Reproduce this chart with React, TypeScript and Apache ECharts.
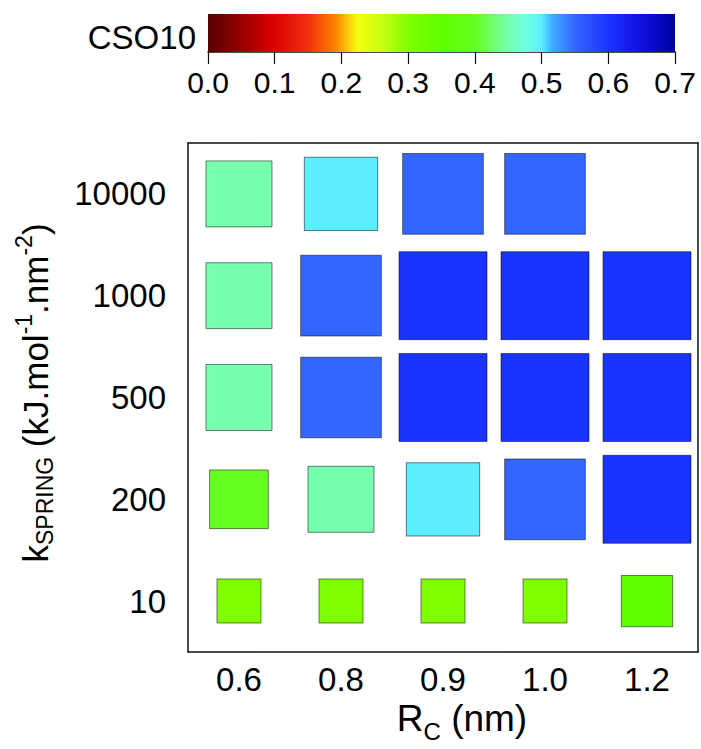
import React, { useEffect, useRef } from 'react';
import * as echarts from 'echarts';

// Category axes
const rcLabels = ['0.6', '0.8', '0.9', '1.0', '1.2'];
const kLabels = ['10', '200', '500', '1000', '10000'];

// CSO10 per spring constant row (columns follow rcLabels)
const cso10At10 = [0.3, 0.3, 0.3, 0.3, 0.35];
const cso10At200 = [0.4, 0.45, 0.5, 0.55, 0.6];
const cso10At500 = [0.45, 0.55, 0.6, 0.6, 0.6];
const cso10At1000 = [0.45, 0.55, 0.6, 0.6, 0.6];
const cso10At10000 = [0.45, 0.5, 0.55, 0.55, null];
const cso10Rows = [cso10At10, cso10At200, cso10At500, cso10At1000, cso10At10000];

// Colour scale
const scaleMin = 0;
const scaleMax = 0.7;
const scaleStep = 0.1;
const colormapStops: [number, string][] = [
  [0.0, '#550000'],
  [0.04, '#8a0000'],
  [0.1, '#dd0000'],
  [0.15, '#f03010'],
  [0.19, '#ff8000'],
  [0.225, '#f5ff10'],
  [0.26, '#c8ff10'],
  [0.3, '#80ff00'],
  [0.35, '#60ff00'],
  [0.4, '#66ff22'],
  [0.45, '#78ffb0'],
  [0.475, '#70ffe0'],
  [0.5, '#5aeeff'],
  [0.515, '#40b0ff'],
  [0.55, '#3366ff'],
  [0.6, '#1a33ff'],
  [0.65, '#1010e0'],
  [0.7, '#0000a0'],
];

const FONT = "'Liberation Sans', Arial, Helvetica, sans-serif";

function hexToRgb(h: string): number[] {
  const n = parseInt(h.slice(1), 16);
  return [(n >> 16) & 255, (n >> 8) & 255, n & 255];
}

function colorAt(v: number): string {
  const s = colormapStops;
  if (v <= s[0][0]) return s[0][1];
  for (let i = 1; i < s.length; i++) {
    if (v <= s[i][0]) {
      const t = (v - s[i - 1][0]) / (s[i][0] - s[i - 1][0]);
      const a = hexToRgb(s[i - 1][1]);
      const b = hexToRgb(s[i][1]);
      const c = a.map((x, k) => Math.round(x + (b[k] - x) * t));
      return `rgb(${c[0]},${c[1]},${c[2]})`;
    }
  }
  return s[s.length - 1][1];
}

function measure(text: string, size: number): number {
  const ctx = document.createElement('canvas').getContext('2d');
  if (!ctx) return text.length * size * 0.55;
  ctx.font = `${size}px ${FONT}`;
  return ctx.measureText(text).width;
}

type Piece = { text: string; size: number; dy: number };

// Lays out a run of text pieces (sub/superscripts) centred on the group's origin
function titleGroup(pieces: Piece[], x: number, y: number, rotation: number) {
  const widths = pieces.map((p) => measure(p.text, p.size));
  const total = widths.reduce((a, b) => a + b, 0);
  let cursor = -total / 2;
  const children = pieces.map((p, i) => {
    const el = {
      type: 'text',
      x: cursor,
      y: p.dy,
      style: {
        text: p.text,
        fontSize: p.size,
        fontFamily: FONT,
        fill: '#000',
        align: 'left',
        verticalAlign: 'middle',
      },
    };
    cursor += widths[i];
    return el;
  });
  return { type: 'group', x, y, rotation, children };
}

export default function App() {
  const ref = useRef<HTMLDivElement>(null);

  useEffect(() => {
    document.body.style.margin = '0';
    if (!ref.current) return;
    const chart = echarts.init(ref.current, undefined, { renderer: 'svg' });

    const points: (number | null)[][] = [];
    cso10Rows.forEach((row, yi) => {
      row.forEach((v, xi) => {
        if (v !== null) points.push([xi, yi, v]);
      });
    });

    const sampled: string[] = [];
    for (let i = 0; i <= 140; i++) sampled.push(colorAt(scaleMin + ((scaleMax - scaleMin) * i) / 140));

    const gradientStops = colormapStops.map(([v, c]) => ({
      offset: (v - scaleMin) / (scaleMax - scaleMin),
      color: c,
    }));

    const axisLine = { show: true, lineStyle: { color: '#111', width: 1.5 } };
    const tickStyle = { color: '#111', width: 1.2 };

    chart.setOption({
      animation: false,
      backgroundColor: '#fff',
      grid: [
        { left: 188, top: 143, width: 510, height: 509 },
        { left: 208, top: 14, width: 467, height: 38 },
      ],
      xAxis: [
        {
          gridIndex: 0,
          type: 'category',
          data: rcLabels,
          position: 'bottom',
          axisLine,
          axisTick: { alignWithLabel: true, length: 10, lineStyle: tickStyle },
          axisLabel: { fontSize: 33, fontFamily: FONT, color: '#000', margin: 11 },
          splitLine: { show: false },
        },
        {
          gridIndex: 0,
          type: 'category',
          data: rcLabels,
          position: 'top',
          axisLine,
          axisTick: { alignWithLabel: true, length: 10, lineStyle: tickStyle },
          axisLabel: { show: false },
          splitLine: { show: false },
        },
        {
          gridIndex: 1,
          type: 'value',
          min: scaleMin,
          max: scaleMax,
          interval: scaleStep,
          position: 'bottom',
          axisLine,
          axisTick: { length: 12, lineStyle: tickStyle },
          axisLabel: {
            fontSize: 30,
            fontFamily: FONT,
            color: '#000',
            margin: 15,
            formatter: (v: number) => v.toFixed(1),
          },
          splitLine: { show: false },
        },
      ],
      yAxis: [
        {
          gridIndex: 0,
          type: 'category',
          data: kLabels,
          position: 'left',
          axisLine,
          axisTick: { alignWithLabel: true, length: 8, lineStyle: tickStyle },
          axisLabel: { fontSize: 33, fontFamily: FONT, color: '#000', margin: 22 },
          splitLine: { show: false },
        },
        {
          gridIndex: 0,
          type: 'category',
          data: kLabels,
          position: 'right',
          axisLine,
          axisTick: { alignWithLabel: true, length: 6, lineStyle: tickStyle },
          axisLabel: { show: false },
          splitLine: { show: false },
        },
        {
          gridIndex: 1,
          type: 'value',
          min: 0,
          max: 1,
          show: false,
        },
      ],
      visualMap: {
        type: 'continuous',
        show: false,
        seriesIndex: 0,
        dimension: 2,
        min: scaleMin,
        max: scaleMax,
        inRange: { color: sampled, symbolSize: [0, 102.67] },
      },
      series: [
        {
          type: 'scatter',
          xAxisIndex: 0,
          yAxisIndex: 0,
          symbol: 'rect',
          data: points,
          itemStyle: { borderColor: 'rgba(0,0,0,0.5)', borderWidth: 1, opacity: 1 },
        },
        {
          type: 'custom',
          xAxisIndex: 2,
          yAxisIndex: 2,
          data: [[scaleMin, scaleMax]],
          renderItem: (_params: any, api: any) => {
            const p0 = api.coord([api.value(0), 0]);
            const p1 = api.coord([api.value(1), 1]);
            return {
              type: 'rect',
              shape: { x: p0[0], y: p1[1], width: p1[0] - p0[0], height: p0[1] - p1[1] },
              style: { fill: new echarts.graphic.LinearGradient(0, 0, 1, 0, gradientStops) },
            };
          },
        },
      ],
      graphic: [
        {
          type: 'text',
          x: 196,
          y: 37,
          style: {
            text: 'CSO10',
            fontSize: 33,
            fontFamily: FONT,
            fill: '#000',
            align: 'right',
            verticalAlign: 'middle',
          },
        },
        titleGroup(
          [
            { text: 'k', size: 35, dy: 0 },
            { text: 'SPRING', size: 23, dy: 10 },
            { text: ' (kJ.mol', size: 35, dy: 0 },
            { text: '-1', size: 23, dy: -11 },
            { text: '.nm', size: 35, dy: 0 },
            { text: '-2', size: 23, dy: -11 },
            { text: ')', size: 35, dy: 0 },
          ],
          35,
          393,
          Math.PI / 2
        ),
        titleGroup(
          [
            { text: 'R', size: 37, dy: 0 },
            { text: 'C', size: 24, dy: 13 },
            { text: ' (nm)', size: 37, dy: 0 },
          ],
          462,
          718,
          0
        ),
      ],
    });

    return () => chart.dispose();
  }, []);

  return <div ref={ref} style={{ width: 701, height: 749 }} />;
}
